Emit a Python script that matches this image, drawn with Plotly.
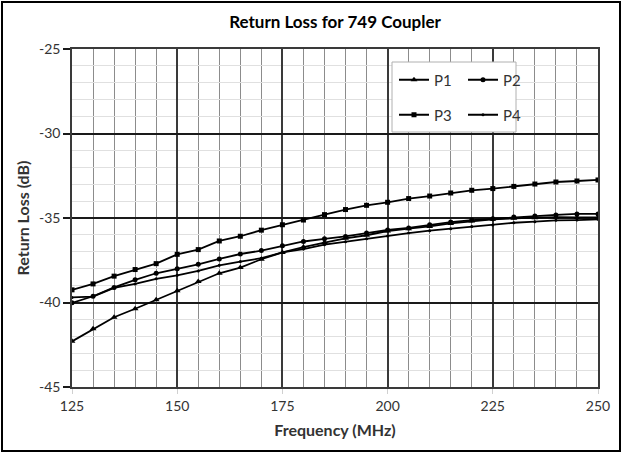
import plotly.graph_objects as go

freq = list(range(125, 251, 5))

p1 = [-42.30, -41.56, -40.87, -40.37, -39.84, -39.31, -38.76, -38.27, -37.93, -37.44,
      -37.04, -36.72, -36.45, -36.20, -36.02, -35.77, -35.63, -35.50, -35.32, -35.18,
      -35.08, -35.02, -34.99, -34.95, -34.97, -34.97]
p2 = [-40.02, -39.63, -39.11, -38.66, -38.27, -38.01, -37.74, -37.42, -37.13, -36.93,
      -36.64, -36.39, -36.23, -36.09, -35.89, -35.71, -35.59, -35.40, -35.24, -35.12,
      -35.04, -34.94, -34.88, -34.82, -34.76, -34.76]
p3 = [-39.25, -38.90, -38.44, -38.05, -37.70, -37.15, -36.87, -36.36, -36.08, -35.72,
      -35.40, -35.12, -34.80, -34.50, -34.25, -34.07, -33.85, -33.70, -33.52, -33.36,
      -33.26, -33.13, -32.99, -32.87, -32.81, -32.75]
p4 = [-39.70, -39.65, -39.13, -38.90, -38.60, -38.39, -38.13, -37.80, -37.58, -37.38,
      -37.04, -36.84, -36.58, -36.40, -36.23, -36.07, -35.89, -35.75, -35.63, -35.51,
      -35.41, -35.28, -35.22, -35.14, -35.12, -35.08]

y_ticks = [-45, -40, -35, -30, -25]
y_tick_labels = ["-45", "-40", "-35", "-30", "-25"]

series = [("P1", p1, "triangle-up", 6, "legend"),
          ("P2", p2, "circle", 5, "legend"),
          ("P3", p3, "square", 5, "legend2"),
          ("P4", p4, "circle", 3, "legend2")]

FONT = "Lato"
TXT = "#333333"
fig = go.Figure()
for name, vals, sym, size, leg in series:
    fig.add_trace(go.Scatter(
        x=freq, y=vals, name=name, mode="lines+markers",
        line=dict(color="black", width=1.8),
        marker=dict(symbol=sym, size=size, color="black"),
        legend=leg))

W, H = 622, 453
L, R, T, B = 72, 24, 49, 66
pw, ph = W - L - R, H - T - B

def px(x):
    return (x - L) / pw

def py(y):
    return (H - B - y) / ph

legend_common = dict(orientation="h", xanchor="left", yanchor="middle",
                     bgcolor="rgba(0,0,0,0)", entrywidth=24, entrywidthmode="pixels",
                     itemwidth=30, font=dict(family=FONT, size=15, color=TXT))

fig.update_layout(
    width=W, height=H,
    margin=dict(l=L, r=R, t=T, b=B),
    paper_bgcolor="white", plot_bgcolor="white",
    font=dict(family=FONT, size=12, color=TXT),
    title=dict(text="<b>Return Loss for 749 Coupler</b>", x=0.5, xref="paper",
               xanchor="center", y=1 - 22 / H, yref="container", yanchor="middle",
               font=dict(family=FONT, size=17, color="black")),
    xaxis=dict(range=[125, 250], dtick=25, tick0=125,
               showgrid=True, gridcolor="#3a3a3a", gridwidth=1.6,
               minor=dict(dtick=5, showgrid=True, gridcolor="#8c8c8c", gridwidth=1.3,
                          ticks=""),
               showline=True, linecolor="#3a3a3a", linewidth=1.6, mirror=True,
               ticks="outside", ticklen=5, tickcolor="#d0d0d0",
               zeroline=False,
               tickfont=dict(family=FONT, size=14, color=TXT),
               title=dict(text="<b>Frequency (MHz)</b>", standoff=12,
                          font=dict(family=FONT, size=16, color=TXT))),
    yaxis=dict(range=[-45, -25], tickvals=y_ticks, ticktext=y_tick_labels,
               showgrid=True, gridcolor="#1a1a1a", gridwidth=1.6,
               minor=dict(dtick=1, showgrid=True, gridcolor="#e0e0e0", gridwidth=1.3,
                          ticks=""),
               showline=True, linecolor="#3a3a3a", linewidth=1.6, mirror=True,
               ticks="outside", ticklen=7, tickcolor="#1a1a1a", tickwidth=1.6,
               zeroline=False,
               tickfont=dict(family=FONT, size=14, color=TXT),
               title=dict(text="<b>Return Loss (dB)</b>", standoff=5,
                          font=dict(family=FONT, size=16, color=TXT))),
    legend=dict(x=px(394), y=py(80), **legend_common),
    legend2=dict(x=px(394), y=py(115), **legend_common),
    shapes=[
        dict(type="rect", xref="paper", yref="paper",
             x0=px(392), x1=px(516), y0=py(132), y1=py(62),
             fillcolor="white", line=dict(color="#b0b0b0", width=1), layer="above"),
        dict(type="rect", xref="paper", yref="paper",
             x0=px(2), x1=px(620), y0=py(451), y1=py(2),
             fillcolor="rgba(0,0,0,0)", line=dict(color="black", width=2)),
    ],
)

fig.write_html("out.html", config={"displayModeBar": False},
               post_script="document.body.style.margin='0';document.body.style.overflow='hidden';")
